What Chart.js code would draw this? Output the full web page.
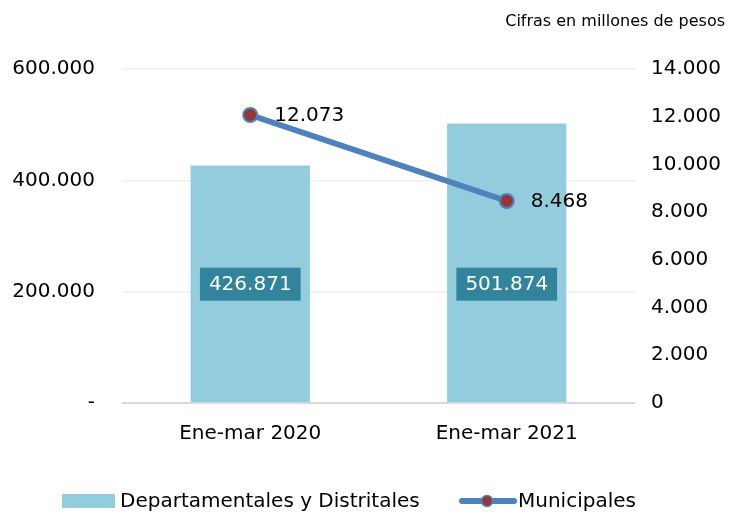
<!DOCTYPE html>
<html>
<head>
<meta charset="utf-8">
<script src="https://cdn.jsdelivr.net/npm/chart.js@4.4.1/dist/chart.umd.min.js"></script>
<style>
  html, body { margin: 0; padding: 0; background: #fff; }
  #wrap { width: 729px; height: 513px; position: relative; }
</style>
</head>
<body>
<div id="wrap"><canvas id="chart"></canvas></div>
<script>
// Datos (cifras en millones de pesos)
const categories = ['Ene-mar 2020', 'Ene-mar 2021'];
const departamentales = [426871, 501874];
const municipales = [12073, 8468];
const leftTicks = [0, 200000, 400000, 600000];
const rightTicks = [0, 2000, 4000, 6000, 8000, 10000, 12000, 14000];

const FONT = "'DejaVu Sans', Verdana, sans-serif";
const BAR_COLOR = '#93cddd';
const LINE_COLOR = '#4f81bd';
const POINT_COLOR = '#953735';
const LABEL_BOX = '#31849b';

function fmt(v) {
    return v.toLocaleString('de-DE');
}

// Etiquetas de valores, nota superior y leyenda
const extrasPlugin = {
    id: 'extras',
    afterDatasetsDraw(chart) {
        const ctx = chart.ctx;
        const yL = chart.scales.y;
        ctx.save();
        ctx.font = '20px ' + FONT;
        ctx.textBaseline = 'middle';

        // Cajas de valores en las barras (a media altura de la barra menor)
        const labelY = yL.getPixelForValue(Math.min(...departamentales) / 2);
        const barMeta = chart.getDatasetMeta(0);
        barMeta.data.forEach((bar, i) => {
            const txt = fmt(departamentales[i]);
            const w = ctx.measureText(txt).width + 18;
            const h = 33;
            ctx.fillStyle = LABEL_BOX;
            ctx.fillRect(bar.x - w / 2, labelY - h / 2, w, h);
            ctx.fillStyle = '#ffffff';
            ctx.textAlign = 'center';
            ctx.fillText(txt, bar.x, labelY + 1);
        });

        // Valores de la línea
        const lineMeta = chart.getDatasetMeta(1);
        ctx.fillStyle = '#000000';
        ctx.textAlign = 'left';
        lineMeta.data.forEach((pt, i) => {
            ctx.fillText(fmt(municipales[i]), pt.x + 24, pt.y + 1);
        });
        ctx.restore();
    },
    afterDraw(chart) {
        const ctx = chart.ctx;
        ctx.save();
        // Nota
        ctx.font = '16px ' + FONT;
        ctx.fillStyle = '#000000';
        ctx.textAlign = 'right';
        ctx.textBaseline = 'middle';
        ctx.fillText('Cifras en millones de pesos', 725, 22);

        // Leyenda
        const ly = 501;
        ctx.font = '20px ' + FONT;
        ctx.textAlign = 'left';
        ctx.fillStyle = BAR_COLOR;
        ctx.fillRect(62, ly - 7, 53, 14);
        ctx.fillStyle = '#000000';
        ctx.fillText('Departamentales y Distritales', 120, ly + 1);

        ctx.strokeStyle = LINE_COLOR;
        ctx.lineWidth = 6;
        ctx.lineCap = 'round';
        ctx.beginPath();
        ctx.moveTo(462, ly);
        ctx.lineTo(514, ly);
        ctx.stroke();
        ctx.beginPath();
        ctx.arc(487, ly, 5.5, 0, Math.PI * 2);
        ctx.fillStyle = POINT_COLOR;
        ctx.fill();
        ctx.lineWidth = 1.5;
        ctx.stroke();
        ctx.fillStyle = '#000000';
        ctx.fillText('Municipales', 518, ly + 1);
        ctx.restore();
    }
};

const ctx = document.getElementById('chart').getContext('2d');
new Chart(ctx, {
    data: {
        labels: categories,
        datasets: [{
            type: 'bar',
            label: 'Departamentales y Distritales',
            data: departamentales,
            backgroundColor: BAR_COLOR,
            barPercentage: 0.465,
            categoryPercentage: 1,
            yAxisID: 'y',
            order: 1
        }, {
            type: 'line',
            label: 'Municipales',
            data: municipales,
            borderColor: LINE_COLOR,
            borderWidth: 6,
            pointRadius: 7,
            pointBorderWidth: 2,
            pointBackgroundColor: POINT_COLOR,
            pointBorderColor: LINE_COLOR,
            tension: 0,
            yAxisID: 'y2',
            order: 0
        }]
    },
    options: {
        responsive: true,
        maintainAspectRatio: false,
        animation: false,
        layout: { padding: { top: 69, left: 0, right: 0, bottom: 0 } },
        plugins: {
            legend: { display: false },
            tooltip: { enabled: false }
        },
        scales: {
            x: {
                grid: { display: false },
                border: { display: false },
                ticks: { padding: 11, color: '#000', font: { family: FONT, size: 20 } },
                afterFit: s => { s.height = 110; }
            },
            y: {
                position: 'left',
                min: 0,
                max: 600000,
                afterBuildTicks: s => { s.ticks = leftTicks.map(v => ({ value: v })); },
                ticks: {
                    padding: 27,
                    color: '#000',
                    font: { family: FONT, size: 20 },
                    callback: v => v === 0 ? '-' : fmt(v)
                },
                grid: {
                    drawTicks: false,
                    color: c => c.tick && c.tick.value === 0 ? '#d9d9d9' : '#efefef',
                    lineWidth: c => c.tick && c.tick.value === 0 ? 2 : 1.5
                },
                border: { display: false },
                afterFit: s => { s.width = 122; }
            },
            y2: {
                position: 'right',
                min: 0,
                max: 14000,
                afterBuildTicks: s => { s.ticks = rightTicks.map(v => ({ value: v })); },
                ticks: {
                    padding: 16,
                    color: '#000',
                    font: { family: FONT, size: 20 },
                    callback: v => fmt(v)
                },
                grid: { display: false, drawTicks: false },
                border: { display: false },
                afterFit: s => { s.width = 94; }
            }
        }
    },
    plugins: [extrasPlugin]
});
</script>
</body>
</html>
